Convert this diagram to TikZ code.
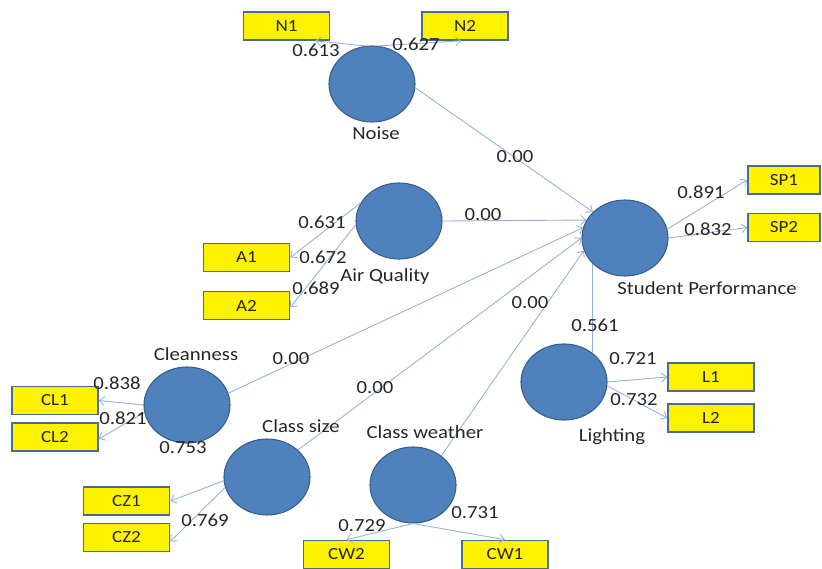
\documentclass[tikz,border=0pt]{standalone}
\usepackage{fontspec}
\setmainfont{Carlito}[FakeStretch=1.12]
\usetikzlibrary{shapes.geometric,arrows.meta}
\definecolor{circfill}{HTML}{4F81BD}
\definecolor{circdraw}{HTML}{3A5F8B}
\definecolor{boxdraw}{HTML}{4A6A96}
\definecolor{linkcol}{HTML}{95B3D7}
\definecolor{txtcol}{HTML}{262626}
\tikzset{
  latent/.style={ellipse, fill=circfill, draw=circdraw, line width=1.1pt, minimum width=86pt, minimum height=76pt, inner sep=0pt},
  indic/.style={rectangle, fill=yellow, draw=boxdraw, line width=1.6pt, minimum width=86pt, minimum height=28pt, inner sep=0pt, text=txtcol, font=\fontsize{17}{19}\selectfont},
  lbl/.style={text=txtcol, inner sep=0pt, font=\fontsize{18.5}{20}\selectfont},
  link/.style={draw=linkcol, line width=0.9pt, -{Straight Barb[length=5pt,width=9pt]}},
  plainlink/.style={draw=linkcol, line width=0.9pt}
}
\begin{document}
\begin{tikzpicture}[x=1pt,y=-1pt]
\useasboundingbox (0,0) rectangle (822,569);
% latent variables
\node[latent] (noise) at (372,84) {};
\node[latent] (aq) at (399,221) {};
\node[latent] (sp) at (625,238) {};
\node[latent] (clean) at (187,405) {};
\node[latent] (size) at (267,477) {};
\node[latent] (weather) at (413,485) {};
\node[latent] (light) at (564,382) {};
% indicators
\node[indic] (N1) at (286.5,26) {N1};
\node[indic] (N2) at (465,26) {N2};
\node[indic] (A1) at (246.5,257.5) {A1};
\node[indic] (A2) at (246.5,305.5) {A2};
\node[indic, minimum width=72pt] (SP1) at (784,180) {SP1};
\node[indic, minimum width=72pt] (SP2) at (784,227.5) {SP2};
\node[indic] (CL1) at (55,400.5) {CL1};
\node[indic] (CL2) at (55,437) {CL2};
\node[indic] (CZ1) at (126.5,501) {CZ1};
\node[indic] (CZ2) at (126.5,537.5) {CZ2};
\node[indic] (CW2) at (346.5,554.5) {CW2};
\node[indic] (CW1) at (505,554.5) {CW1};
\node[indic] (L1) at (711,377) {L1};
\node[indic] (L2) at (711,418) {L2};
% connectors
\draw[link] (noise.100) -- ([xshift=-15pt]N1.south east);
\draw[link] (noise.80) -- ([xshift=40pt]N2.south west);
\draw[link] (noise.-5) -- (sp.141);
\draw[link] (aq.155) -- (A1.east);
\draw[link] (aq.185) -- ([yshift=-2pt]A2.east);
\draw[link] (aq.east) -- (sp.155);
\draw[link] (sp.12) -- (SP1.west);
\draw[link] (sp.east) -- (SP2.west);
\draw[link] (clean.west) -- (CL1.east);
\draw[link] (clean.190) -- ([yshift=-2pt]CL2.east);
\draw[link] (clean.16) -- (sp.166);
\draw[link] (size.185) -- (CZ1.east);
\draw[link] (size.194) -- ([yshift=-4pt]CZ2.east);
\draw[link] (size.41) -- (sp.180);
\draw[link] (weather.south) -- (CW2.north);
\draw[link] (weather.south) -- (CW1.north);
\draw[link] (weather.46) -- (sp.197);
\draw[plainlink] (light.45) -- (light.45 |- sp.218);
\draw[link] (light.east) -- (L1.west);
\draw[link] (light.355) -- (L2.west);
% labels
\node[lbl] (tnoise) at (376,133) {Noise};
\node[lbl] (taq) at (385,277) {Air Quality};
\node[lbl] (tsp) at (707,288) {Student Performance};
\node[lbl] (tclean) at (196,354) {Cleanness};
\node[lbl] (tsize) at (301,426) {Class size};
\node[lbl] (tweather) at (425,432) {Class weather};
\node[lbl] (tlight) at (612,437) {Lighting};
\node[lbl] (v1) at (316,50) {0.613};
\node[lbl] (v2) at (416,44) {0.627};
\node[lbl] (v3) at (515,157) {0.00};
\node[lbl] (v4) at (322,222) {0.631};
\node[lbl] (v5) at (323,257) {0.672};
\node[lbl] (v6) at (316,288) {0.689};
\node[lbl] (v7) at (483,215) {0.00};
\node[lbl] (v8) at (701,192) {0.891};
\node[lbl] (v9) at (708,229) {0.832};
\node[lbl] (v10) at (117,383) {0.838};
\node[lbl] (v11) at (123,418) {0.821};
\node[lbl] (v12) at (291,359) {0.00};
\node[lbl] (v13) at (183,448) {0.753};
\node[lbl] (v14) at (205,520) {0.769};
\node[lbl] (v15) at (375,388) {0.00};
\node[lbl] (v16) at (362,526) {0.729};
\node[lbl] (v17) at (475,513) {0.731};
\node[lbl] (v18) at (530,303) {0.00};
\node[lbl] (v19) at (595,325) {0.561};
\node[lbl] (v20) at (633,359) {0.721};
\node[lbl] (v21) at (634,400) {0.732};
\end{tikzpicture}
\end{document}
